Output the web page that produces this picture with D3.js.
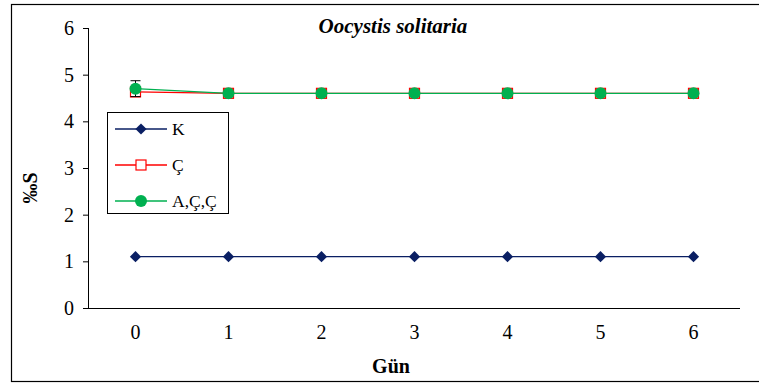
<!DOCTYPE html>
<html>
<head>
<meta charset="utf-8">
<script src="https://cdn.jsdelivr.net/npm/d3@7"></script>
</head>
<body style="margin:0;background:#fff">
<div id="chart"></div>
<script>
// data
const days = ["0", "1", "2", "3", "4", "5", "6"];
const seriesNames = ["K", "Ç", "A,Ç,Ç"];
const valuesK = [1.1, 1.1, 1.1, 1.1, 1.1, 1.1, 1.1];
const valuesC = [4.63, 4.6, 4.6, 4.6, 4.6, 4.6, 4.6];
const valuesACC = [4.7, 4.6, 4.6, 4.6, 4.6, 4.6, 4.6];
const errC = [0.08, 0, 0, 0, 0, 0, 0];
const errACC = [0.17, 0, 0, 0, 0, 0, 0];
const yTicks = [0, 1, 2, 3, 4, 5, 6];

const FONT = "Liberation Serif";
const W = 759, H = 385;
const margin = {top: 28, right: 19, bottom: 77, left: 89};
const width = 740 - margin.left;
const height = 308 - margin.top;

const svg = d3.select("#chart").append("svg")
  .attr("width", W).attr("height", H);

// outer frame
svg.append("rect")
  .attr("x", 11.5).attr("y", 4.5)
  .attr("width", 760).attr("height", 377)
  .attr("fill", "none").attr("stroke", "#000").attr("stroke-width", 1.2);

const g = svg.append("g")
  .attr("transform", "translate(" + margin.left + "," + margin.top + ")");

const x = d3.scaleBand().domain(days).range([0, width]);
const y = d3.scaleLinear().domain([0, 6]).range([height, 0]);
const cx = d => x(d) + x.bandwidth() / 2;

// y axis
const yAxis = d3.axisLeft(y).tickValues(yTicks).tickFormat(d3.format("d")).tickSize(6).tickPadding(9);
g.append("g").call(yAxis)
  .attr("font-family", FONT).attr("font-size", 20)
  .call(a => a.select(".domain").attr("d", "M-0.5," + height + "V0"))
  .call(a => a.selectAll("text").style("font-family", FONT));

// x axis
const xAxis = d3.axisBottom(x).tickSize(0).tickPadding(17);
g.append("g").attr("transform", "translate(0," + height + ")").call(xAxis)
  .attr("font-family", FONT).attr("font-size", 20)
  .call(a => a.select(".domain").attr("d", "M-6,0.5H" + width))
  .call(a => a.selectAll("text").style("font-family", FONT));

const line = d3.line().x((d, i) => cx(days[i])).y(d => y(d));

const series = [
  {name: seriesNames[0], vals: valuesK, err: null, color: "#0a1f63", marker: "diamond"},
  {name: seriesNames[1], vals: valuesC, err: errC, color: "#ff0000", marker: "square"},
  {name: seriesNames[2], vals: valuesACC, err: errACC, color: "#00b050", marker: "circle"}
];

function drawMarker(sel, s, px, py) {
  if (s.marker === "diamond") {
    sel.append("path")
      .attr("d", d3.symbol(d3.symbolDiamond2, 80)())
      .attr("transform", "translate(" + px + "," + py + ")")
      .attr("fill", s.color);
  } else if (s.marker === "square") {
    sel.append("rect")
      .attr("x", px - 5).attr("y", py - 5).attr("width", 10).attr("height", 10)
      .attr("fill", "#fff").attr("stroke", s.color).attr("stroke-width", 1.2);
  } else {
    sel.append("circle").attr("cx", px).attr("cy", py).attr("r", 6)
      .attr("fill", s.color);
  }
}

series.forEach(s => {
  // error bars
  if (s.err) {
    s.vals.forEach((v, i) => {
      if (!s.err[i]) return;
      const px = cx(days[i]);
      g.append("line").attr("x1", px).attr("x2", px)
        .attr("y1", y(v - s.err[i])).attr("y2", y(v + s.err[i]))
        .attr("stroke", "#000").attr("stroke-width", 1);
      [v - s.err[i], v + s.err[i]].forEach(e => {
        g.append("line").attr("x1", px - 5).attr("x2", px + 5)
          .attr("y1", y(e)).attr("y2", y(e))
          .attr("stroke", "#000").attr("stroke-width", 1);
      });
    });
  }
  g.append("path").datum(s.vals)
    .attr("d", line).attr("fill", "none")
    .attr("stroke", s.color).attr("stroke-width", 1.3);
  s.vals.forEach((v, i) => drawMarker(g, s, cx(days[i]), y(v)));
});

// title
svg.append("text")
  .attr("x", 393).attr("y", 33)
  .attr("text-anchor", "middle")
  .attr("font-size", 21).attr("font-weight", "bold").attr("font-style", "italic")
  .style("font-family", FONT)
  .text("Oocystis solitaria");

// axis titles
svg.append("text")
  .attr("transform", "translate(37," + (margin.top + height / 2 + 20) + ") rotate(-90)")
  .attr("text-anchor", "middle")
  .attr("font-size", 20).attr("font-weight", "bold")
  .style("font-family", FONT)
  .text("‰S");

svg.append("text")
  .attr("x", 391).attr("y", 373)
  .attr("text-anchor", "middle")
  .attr("font-size", 20).attr("font-weight", "bold")
  .style("font-family", FONT)
  .text("Gün");

// legend
const legend = svg.append("g").attr("transform", "translate(107,112)");
legend.append("rect")
  .attr("x", 0.5).attr("y", 0.5).attr("width", 121).attr("height", 101)
  .attr("fill", "#fff").attr("stroke", "#000").attr("stroke-width", 1);

series.forEach((s, i) => {
  const ly = 17 + i * 36;
  legend.append("line").attr("x1", 8).attr("x2", 60)
    .attr("y1", ly).attr("y2", ly)
    .attr("stroke", s.color).attr("stroke-width", 1.3);
  drawMarker(legend, s, 34, ly);
  legend.append("text")
    .attr("x", 65).attr("y", ly + 6)
    .attr("font-size", 17.5)
    .style("font-family", FONT)
    .text(s.name);
});
</script>
</body>
</html>
